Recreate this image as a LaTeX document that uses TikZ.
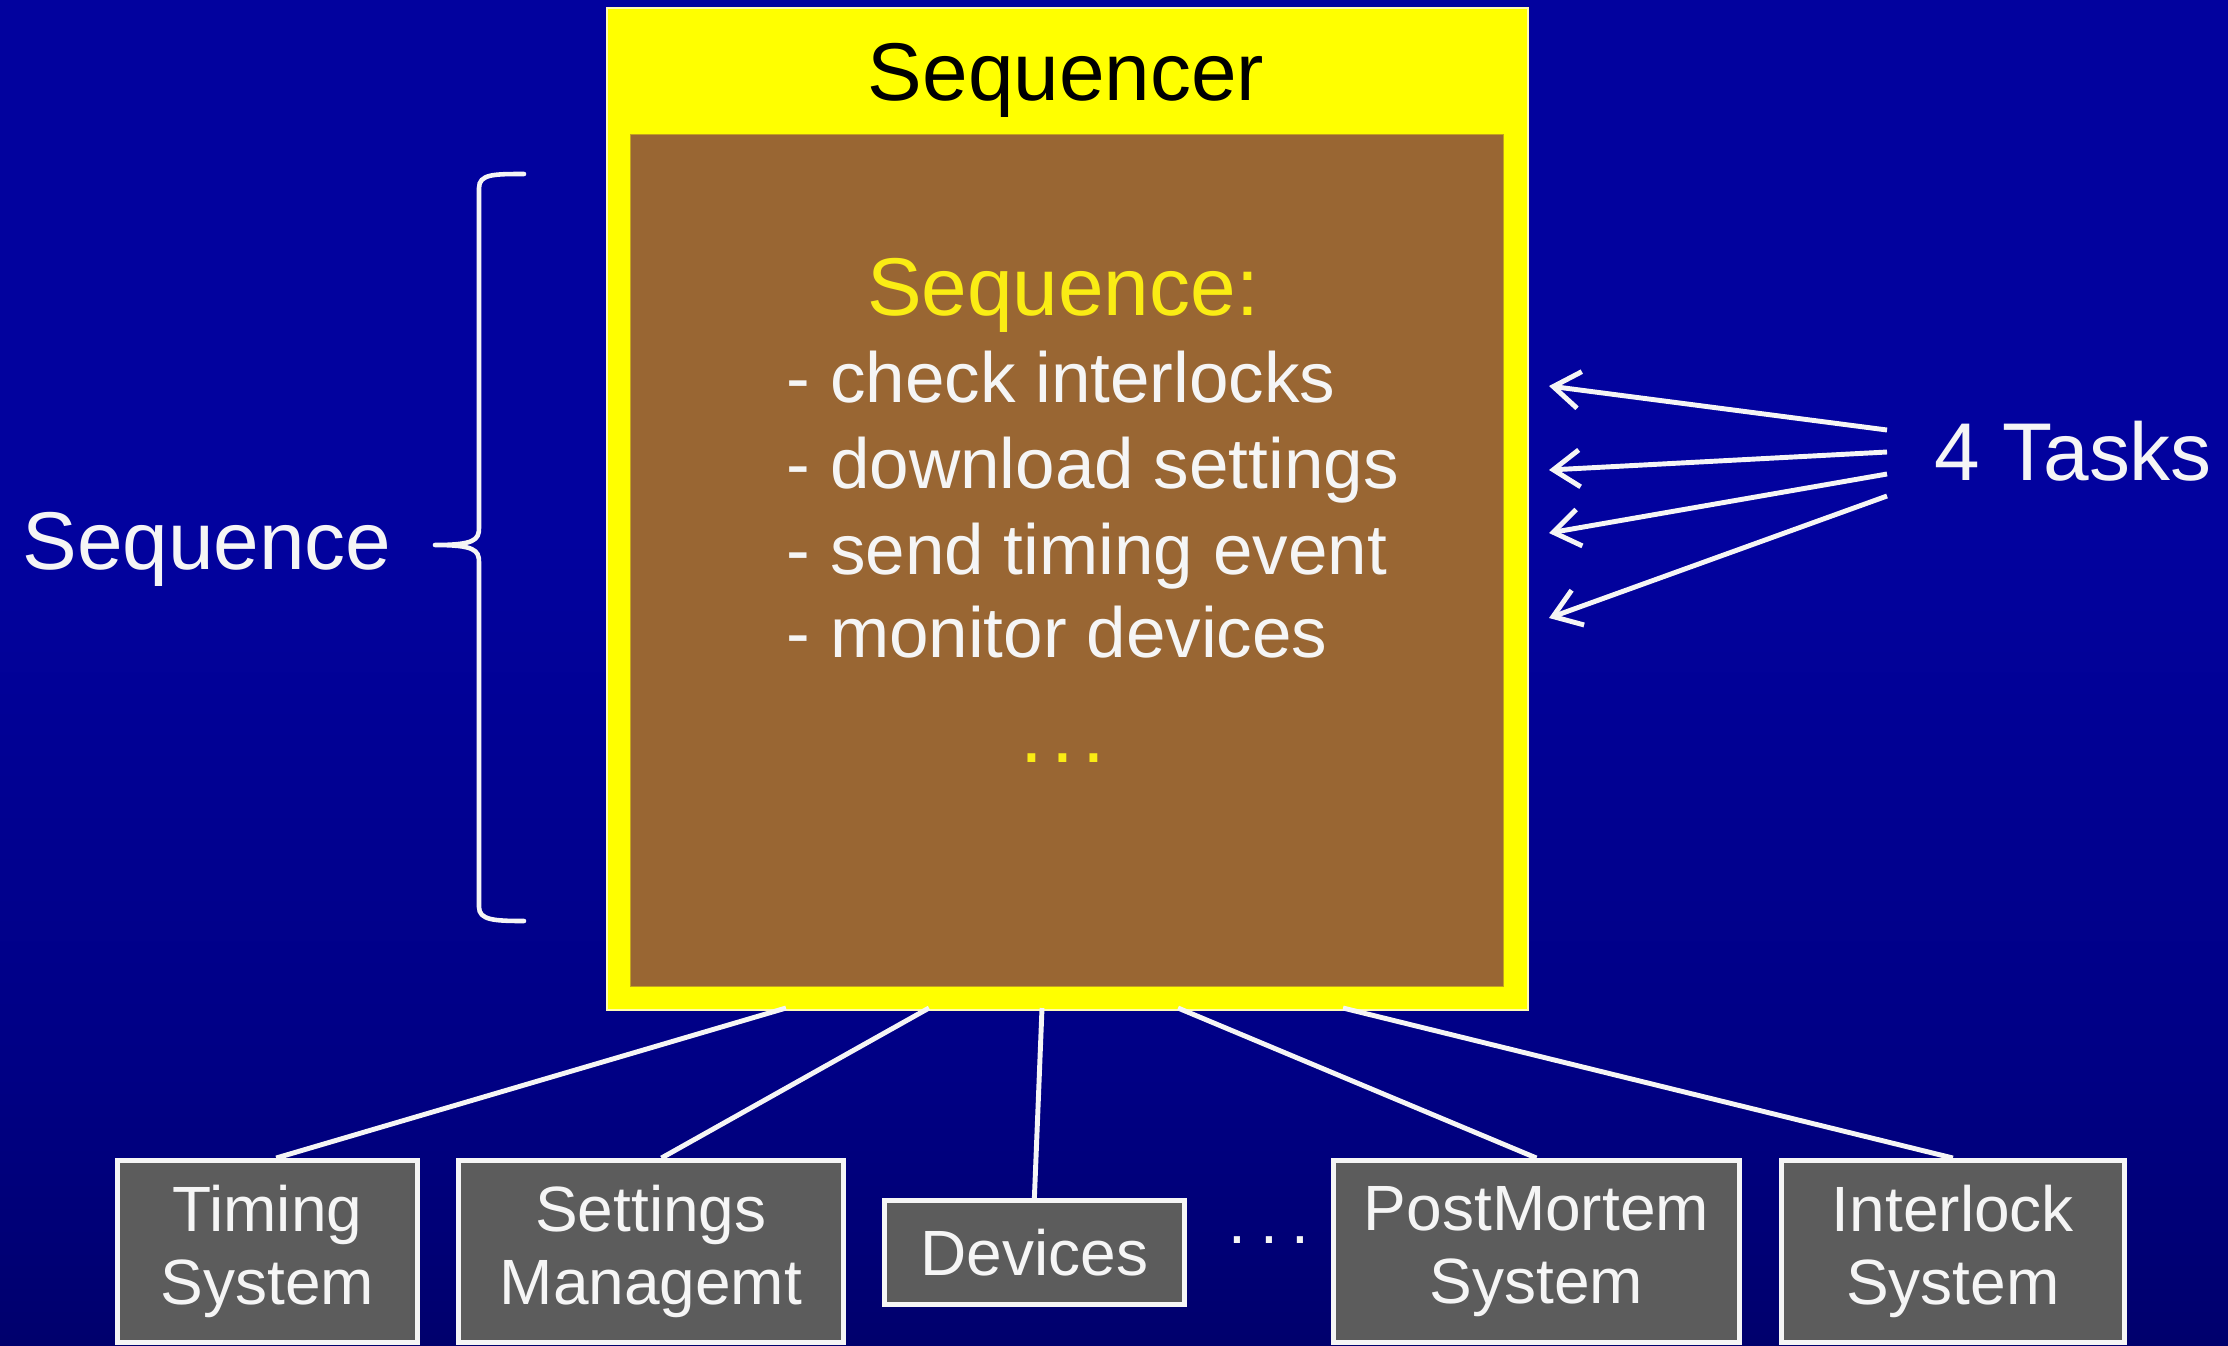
\documentclass[tikz,border=0pt]{standalone}
\usepackage{fontspec}
\setmainfont{Liberation Sans}
\usetikzlibrary{arrows.meta}

\definecolor{bgtop}{RGB}{12,12,96}
\definecolor{bgmid}{RGB}{2,2,158}
\definecolor{bglow}{RGB}{0,0,132}
\definecolor{bgbot}{RGB}{0,0,50}
\definecolor{seqyellow}{RGB}{255,255,0}
\definecolor{seqbrown}{RGB}{153,102,51}
\definecolor{hintyellow}{RGB}{250,236,20}
\definecolor{boxgray}{RGB}{92,92,92}
\definecolor{offwhite}{RGB}{245,245,245}

\pgfdeclareverticalshading{slidebg}{100bp}{%
  color(0bp)=(bgbot); color(35bp)=(bglow); color(55bp)=(bgmid);
  color(75bp)=(bgmid); color(100bp)=(bgtop)}

\tikzset{
  titletext/.style={text=black, font=\fontsize{23.3pt}{28pt}\selectfont, anchor=base, inner sep=0},
  bigtext/.style={text=offwhite, font=\fontsize{23.3pt}{28pt}\selectfont, anchor=base, inner sep=0},
  listtext/.style={text=offwhite, font=\fontsize{20.2pt}{24pt}\selectfont, anchor=base west, inner sep=0},
  headtext/.style={text=hintyellow, font=\fontsize{23.3pt}{28pt}\selectfont, anchor=base, inner sep=0},
  sysbox/.style={draw=offwhite, line width=1.3pt, fill=boxgray, text=offwhite,
    font=\fontsize{18.2pt}{20.8pt}\selectfont, align=center, inner sep=0,
    anchor=north west},
  link/.style={draw=offwhite, line width=1.4pt},
  taskarrow/.style={draw=offwhite, line width=1.4pt,
    -{Straight Barb[length=7.5pt,width=10.5pt]}},
}

\begin{document}
\begin{tikzpicture}[x=0.01cm, y=-0.01cm]
% slide background
\useasboundingbox (0,0) rectangle (2228,1345);
\fill[shading=slidebg] (0,0) rectangle (2228,1345);

% sequencer frame and its inner panel
\node[draw=white!70!yellow, line width=0.6pt, fill=seqyellow, anchor=north west,
      minimum width=9.2cm, minimum height=10.01cm, inner sep=0] (seqr) at (606,7) {};
\node[draw=seqbrown!60!yellow, line width=0.4pt, fill=seqbrown, anchor=north west,
      minimum width=8.72cm, minimum height=8.51cm, inner sep=0] (panel) at (630,134) {};

\node[titletext] (title) at (1066,100) {Sequencer};
\node[headtext] (head) at (1063,315) {Sequence:};
\node[listtext] (l1) at (786,402) {- check interlocks};
\node[listtext] (l2) at (786,488) {- download settings};
\node[listtext] (l3) at (786,574) {- send timing event};
\node[listtext] (l4) at (786,657) {- monitor devices};
\node[headtext] (more) at (1063,762) {.\kern2.3pt.\kern2.3pt.};

% brace on the left
\node[bigtext] (seqlabel) at (207,569) {Sequence};
\coordinate (btop) at (524,174);
\coordinate (bbot) at (524,921);
\coordinate (btip) at (435,545);
\draw[offwhite, line width=1.3pt, line cap=round]
  (btop) .. controls (494,174) and (479,174) .. (479,188)
  -- (479,528) .. controls (479,540) and (474,545) .. (btip)
  (btip) .. controls (474,545) and (479,550) .. (479,562)
  -- (479,907) .. controls (479,920) and (494,921) .. (bbot);

% the four tasks
\node[bigtext] (tasks) at (2073,480) {4 Tasks};
\coordinate (s1) at (1887,430);
\coordinate (s2) at (1887,452);
\coordinate (s3) at (1887,474);
\coordinate (s4) at (1887,496);
\coordinate (e1) at (1549,386);
\coordinate (e2) at (1549,470);
\coordinate (e3) at (1549,533);
\coordinate (e4) at (1549,618);
\draw[taskarrow] (s1) -- (e1);
\draw[taskarrow] (s2) -- (e2);
\draw[taskarrow] (s3) -- (e3);
\draw[taskarrow] (s4) -- (e4);

% connected systems
\node[sysbox, minimum width=3.0cm, minimum height=1.82cm] (timing) at (115,1158) {Timing\\System};
\node[sysbox, minimum width=3.85cm, minimum height=1.82cm] (settings) at (456,1158) {Settings\\Managemt};
\node[sysbox, minimum width=3.0cm, minimum height=1.04cm] (devices) at (882,1198) {Devices};
\node[text=offwhite, font=\fontsize{18.2pt}{20.8pt}\selectfont, inner sep=0] (etc) at (1269,1240) {.\kern4pt.\kern4pt.};
\node[sysbox, minimum width=4.06cm, minimum height=1.82cm] (postmortem) at (1331,1158) {PostMortem\\System};
\node[sysbox, minimum width=3.43cm, minimum height=1.82cm] (interlock) at (1779,1158) {Interlock\\System};

\coordinate (o1) at (786,1008);
\coordinate (o2) at (929,1008);
\coordinate (o3) at (1042,1008);
\coordinate (o4) at (1178,1008);
\coordinate (o5) at (1343,1008);
\draw[link] (o1) -- ([xshift=2.5pt]timing.north);
\draw[link] (o2) -- ([xshift=3pt]settings.north);
\draw[link] (o3) -- (devices.north);
\draw[link] (o4) -- (postmortem.north);
\draw[link] (o5) -- (interlock.north);
\end{tikzpicture}
\end{document}
